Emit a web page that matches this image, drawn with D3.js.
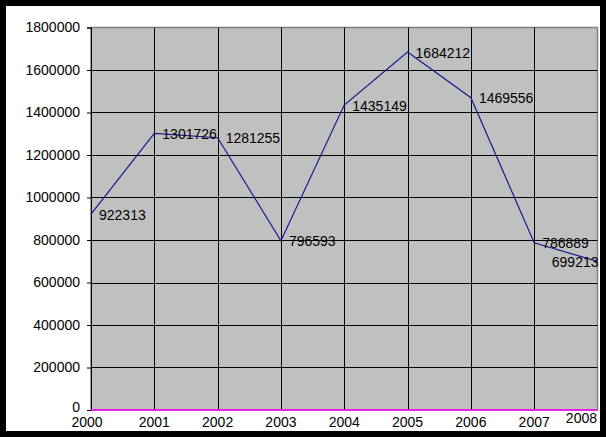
<!DOCTYPE html>
<html>
<head>
<meta charset="utf-8">
<script src="https://cdn.jsdelivr.net/npm/d3@7"></script>
<style>
html,body{margin:0;padding:0;background:#000;}
svg{display:block;}
text{font-family:"Liberation Sans",Arial,sans-serif;font-size:14px;fill:#000;}
</style>
</head>
<body>
<script>
const years = [2000, 2001, 2002, 2003, 2004, 2005, 2006, 2007, 2008];
const values = [922313, 1301726, 1281255, 796593, 1435149, 1684212, 1469556, 786889, 699213];
const yTicks = [0, 200000, 400000, 600000, 800000, 1000000, 1200000, 1400000, 1600000, 1800000];

const W = 606, H = 437;
const svg = d3.select("body").append("svg").attr("width", W).attr("height", H);
svg.append("rect").attr("width", W).attr("height", H).attr("fill", "#000");
svg.append("rect").attr("x", 6).attr("y", 6).attr("width", 594).attr("height", 425).attr("fill", "#fff");

const L = 91, R = 597.5, T = 27.5, B = 410;
const x = d3.scaleLinear().domain([2000, 2008]).range([L, R]);
const y = d3.scaleLinear().domain([0, 1800000]).range([B, T]);

svg.append("rect").attr("x", L).attr("y", T).attr("width", R - L).attr("height", B - T)
  .attr("fill", "#c0c0c0").attr("stroke", "#808080").attr("stroke-width", 1.5);

// horizontal gridlines
svg.append("g").selectAll("line").data(yTicks.filter(d => d > 0 && d < 1800000)).join("line")
  .attr("x1", L).attr("x2", R).attr("y1", d => Math.round(y(d)) + 0.5).attr("y2", d => Math.round(y(d)) + 0.5)
  .attr("stroke", "#000").attr("stroke-width", 1);
// vertical gridlines
svg.append("g").selectAll("line").data(years.slice(1, -1)).join("line")
  .attr("x1", d => Math.round(x(d)) + 0.5).attr("x2", d => Math.round(x(d)) + 0.5).attr("y1", T).attr("y2", B)
  .attr("stroke", "#000").attr("stroke-width", 1);

// y axis
const yAxis = d3.axisLeft(y).tickValues(yTicks).tickSize(4).tickPadding(7).tickFormat(d3.format("d"));
const ga = svg.append("g").attr("transform", `translate(${L},0)`).call(yAxis);
ga.select(".domain").attr("stroke", "#000");
ga.selectAll(".tick line").attr("stroke", "#000");
ga.selectAll("text").style("font-family", '"Liberation Sans",Arial,sans-serif').style("font-size", "14px").attr("fill", "#000");
ga.selectAll(".tick").filter(d => d === 0).select("text").attr("dy", "0.1em");

// bottom magenta axis line
svg.append("line").attr("x1", L).attr("x2", R).attr("y1", B).attr("y2", B)
  .attr("stroke", "#ff00ff").attr("stroke-width", 1.5);

// x labels
svg.append("g").selectAll("text").data(years).join("text")
  .attr("x", (d, i) => i === years.length - 1 ? x(d) - 0.5 : x(d) + (i === 0 ? -4 : 0))
  .attr("y", (d, i) => i === years.length - 1 ? 423 : 427)
  .attr("text-anchor", (d, i) => i === years.length - 1 ? "end" : "middle")
  .text(d => d);

// line
const line = d3.line().x((d, i) => x(years[i])).y(d => y(d));
svg.append("path").datum(values).attr("d", line).attr("fill", "none")
  .attr("stroke", "#1a1a8c").attr("stroke-width", 1.2);

// data labels
svg.append("g").selectAll("text").data(values).join("text")
  .attr("x", (d, i) => i === values.length - 1 ? x(years[i]) + 1 : x(years[i]) + 8)
  .attr("y", d => y(d) + 5.5)
  .attr("text-anchor", (d, i) => i === values.length - 1 ? "end" : "start")
  .text(d => d);
</script>
</body>
</html>
